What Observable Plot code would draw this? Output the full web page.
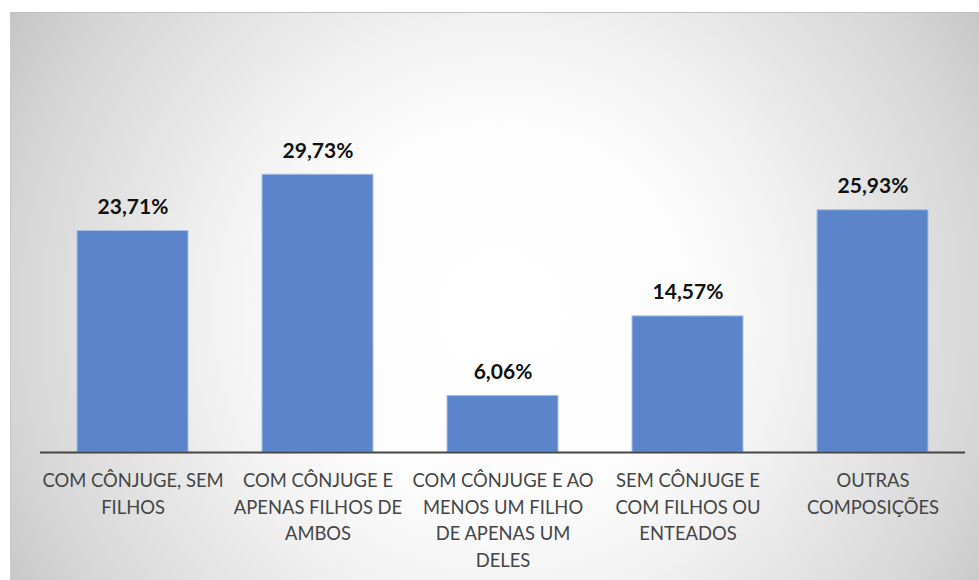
<!DOCTYPE html>
<html>
<head>
<meta charset="utf-8">
<script src="https://cdn.jsdelivr.net/npm/d3@7"></script>
<script src="https://cdn.jsdelivr.net/npm/@observablehq/plot@0.6"></script>
<style>
  html, body { margin: 0; padding: 0; background: #fff; width: 979px; height: 580px; overflow: hidden; }
  #bg {
    position: absolute; left: 10px; top: 12px; width: 980px; height: 580px;
    border-top: 1px solid #c0c0c0; border-left: 1px solid #c8c8c8;
    background: radial-gradient(circle farthest-corner at 50% 52%, #ffffff 0%, #fdfdfd 32%, #f2f2f2 50%, #d5d5d5 86%, #c5c5c5 100%);
  }
  #chart { position: absolute; left: 0; top: 0; }
</style>
</head>
<body>
<div id="bg"></div>
<div id="chart"></div>
<script>
const categories = [
  "COM CÔNJUGE, SEM\nFILHOS",
  "COM CÔNJUGE E\nAPENAS FILHOS DE\nAMBOS",
  "COM CÔNJUGE E AO\nMENOS UM FILHO\nDE APENAS UM\nDELES",
  "SEM CÔNJUGE E\nCOM FILHOS OU\nENTEADOS",
  "OUTRAS\nCOMPOSIÇÕES"
];
const values = [23.71, 29.73, 6.06, 14.57, 25.93];
const valueLabels = ["23,71%", "29,73%", "6,06%", "14,57%", "25,93%"];

const data = categories.map((c, i) => ({cat: c, value: values[i], label: valueLabels[i]}));

const chart = Plot.plot({
  width: 979,
  height: 580,
  marginLeft: 40,
  marginRight: 14,
  marginTop: 125,
  marginBottom: 128,
  style: {background: "transparent", fontFamily: "Lato, sans-serif", overflow: "visible"},
  x: {domain: categories, paddingInner: 0.4, paddingOuter: 0.2, axis: null},
  y: {domain: [0, 35], axis: null},
  marks: [
    Plot.barY(data, {x: "cat", y: "value", fill: "#5b84ca", stroke: "#a9c0e6", strokeWidth: 1}),
    Plot.ruleY([0], {stroke: "#454545", strokeWidth: 2.2}),
    Plot.text(data, {x: "cat", y: "value", text: "label", dy: -17, lineAnchor: "bottom",
      fontSize: 21, fontWeight: "bold", fill: "#111"}),
    Plot.text(data, {x: "cat", y: 0, text: "cat", dy: 16, lineAnchor: "top",
      lineHeight: 1.44, fontSize: 18.4, fill: "#454545"})
  ]
});
document.getElementById("chart").appendChild(chart);
</script>
</body>
</html>
